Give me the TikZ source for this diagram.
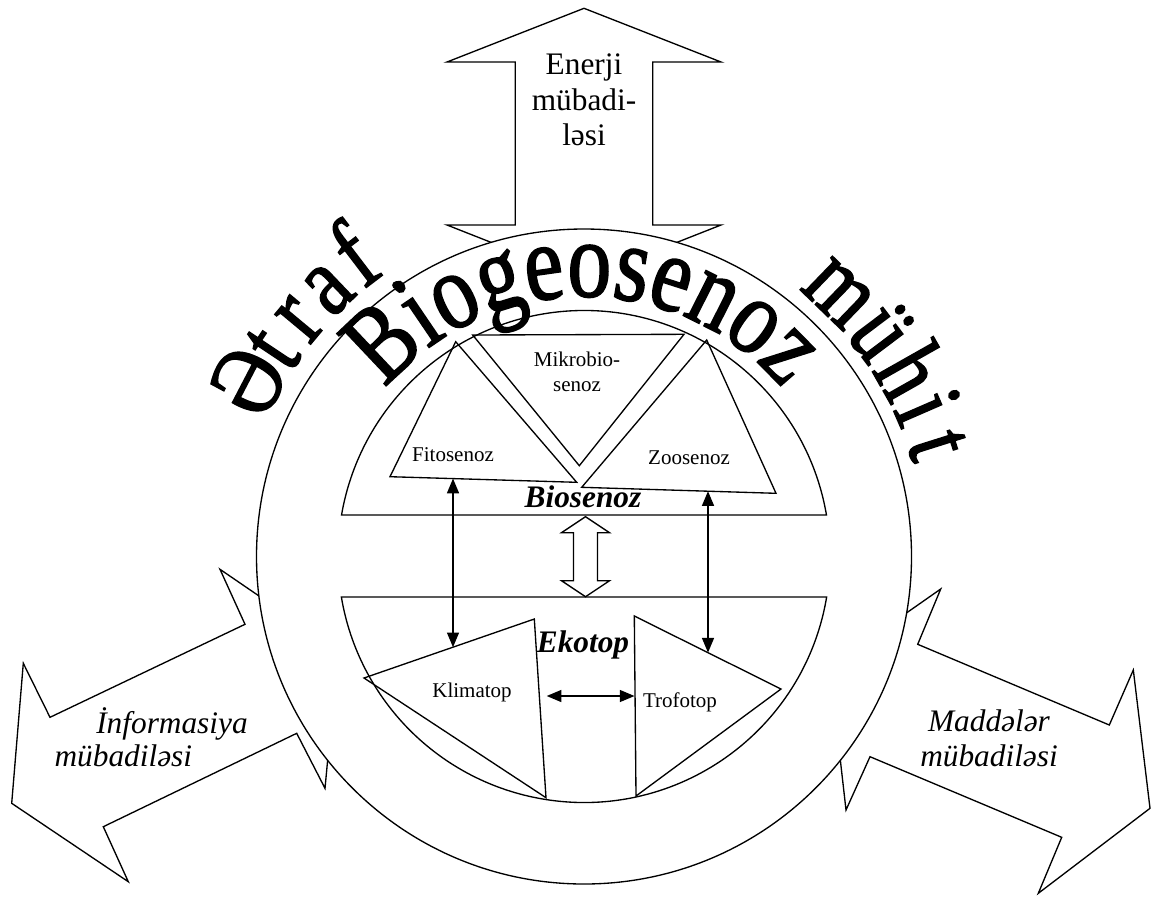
\documentclass[tikz,border=0pt]{standalone}
\usepackage{fontspec}
\setmainfont{Liberation Serif}
\newfontfamily\arcfam[FakeStretch=0.8,FakeBold=1.5]{Liberation Serif}
\usetikzlibrary{arrows.meta,decorations.text}
\newcommand\arcfont{\arcfam\fontsize{76}{76}\selectfont}
\newcommand\ringfont{\arcfam\fontsize{82}{82}\selectfont}

\begin{document}
\begin{tikzpicture}[x=0.75pt, y=0.75pt, line width=1pt,
		small/.style={font=\fontsize{15.75}{19}\selectfont, inner sep=0, align=center},
		large/.style={font=\fontsize{23.5}{26.5}\selectfont, inner sep=0, align=center},
		biglabel/.style={font=\fontsize{23.5}{26.5}\selectfont\bfseries\itshape, inner sep=0},
		arcletter/.style={font=\arcfont, anchor=base, inner sep=0},
		link/.style={<->, >={Triangle[length=11pt,width=9pt]}}]
	\useasboundingbox (0,0) rectangle (1155,-896);
	\coordinate (ctr) at (584,-556.5);
	\draw (584,-8.3) -- (721,-62) -- (652.7,-62) -- (652.7,-225) -- (721,-225) -- (584,-279) -- (447,-225) -- (515.3,-225) -- (515.3,-62) -- (447,-62) -- cycle;
	\draw (220,-569.3) -- (245,-624.3) -- (50,-717.3) -- (23.3,-663.3) -- (11.7,-803.3) -- (128.3,-881.7) -- (103.3,-826.7) -- (296.7,-733.3) -- (325,-788.3) -- (338,-650) -- cycle;
	\draw (940.7,-589) -- (917.7,-644.3) -- (1109.3,-725) -- (1133.3,-670) -- (1150,-808.3) -- (1038.3,-893.3) -- (1061.7,-837.3) -- (870,-756.7) -- (846,-810) -- (829.7,-666.6) -- cycle;
	\draw[fill=white] (ctr) circle[radius=327.5];
	\draw ([shift={(9.71:246)}]ctr) arc[start angle=9.71, end angle=170.29, radius=246] -- cycle;
	\draw ([shift={(-9.48:246)}]ctr) arc[start angle=-9.48, end angle=-170.52, radius=246] -- cycle;
	\draw (455.7,-341.7) -- (390,-476.7) -- (576.7,-482.3) -- cycle;
	\draw (472.7,-335) -- (684,-334.3) -- (579.3,-465.7) -- cycle;
	\draw (706.7,-340) -- (581.7,-487.3) -- (776,-493.3) -- cycle;
	\draw (364,-678) -- (534.3,-619) -- (546,-797.7) -- cycle;
	\draw (634.3,-616) -- (781,-689) -- (636,-796) -- cycle;
	\draw (585.5,-516.7) -- (609.5,-532.7) -- (597.5,-532.7) -- (597.5,-580.7) -- (609.5,-580.7) -- (585.5,-596.7) -- (561.5,-580.7) -- (573.5,-580.7) -- (573.5,-532.7) -- (561.5,-532.7) -- cycle;
	\coordinate (fitoFoot) at (453,-478.6);
	\coordinate (klimTop) at (453,-647.2);
	\coordinate (zooFoot) at (708,-491.2);
	\coordinate (trofTop) at (708,-652.6);
	\coordinate (klimSide) at (546.7,-696);
	\coordinate (trofSide) at (634.5,-696);
	\draw[link] (fitoFoot) -- (klimTop);
	\draw[link] (zooFoot) -- (trofTop);
	\draw[link] (klimSide) -- (trofSide);
	\node[small] (fito) at (453,-455) {Fitosenoz};
	\node[small] (mikro) at (577,-372) {Mikrobio-\\senoz};
	\node[small] (zoo) at (689,-458) {Zoosenoz};
	\node[small] (klim) at (472,-692) {Klimatop};
	\node[small] (trof) at (680,-702) {Trofotop};
	\node[biglabel] (bios) at (583,-497) {Biosenoz};
	\node[biglabel] (ekot) at (583,-645) {Ekotop};
	\node[large] (energy) at (584,-100) {Enerji\\mübadi-\\ləsi};
	\node[large, font=\fontsize{23.5}{26.5}\selectfont\itshape, anchor=base] (infoA) at (172,-733.3) {İnformasiya};
	\node[large, font=\fontsize{23.5}{26.5}\selectfont\itshape, anchor=base] (infoB) at (123.3,-766.7) {mübadiləsi};
	\node[large, font=\fontsize{23.5}{26.5}\selectfont\itshape] (matter) at (989,-738.3) {Maddələr\\mübadiləsi};
	\foreach \ch/\ang [count=\k] in {Ə/152.5, t/146.3, r/140.2, a/133.7, f/127.3}
		\node[arcletter, rotate=\ang-90] (etraf\k) at ([shift={(\ang:346)}]ctr) {\ch};
	\foreach \ch/\ang [count=\k] in {m/46, ü/37, h/29.5, i/23.5, t/17.5}
		\node[arcletter, rotate=\ang-90] (muhit\k) at ([shift={(\ang:342)}]ctr) {\ch};
	\fill ([shift={(124.7:330)}]ctr) circle[radius=4];
	\path[decorate, decoration={text along path, text align=center, text={|\ringfont|Biogeosenoz}}] ([shift={(150:260)}]ctr) arc[start angle=150, end angle=30, radius=260];
\end{tikzpicture}
\end{document}
